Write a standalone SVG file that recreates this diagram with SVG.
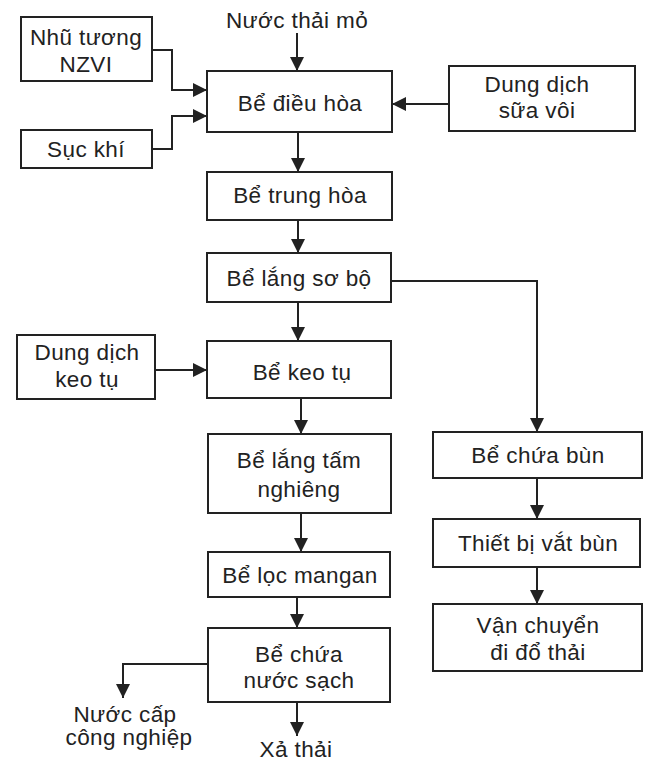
<svg xmlns="http://www.w3.org/2000/svg" width="649" height="763" viewBox="0 0 649 763">
<style>
.box{fill:#fff;stroke:#222;stroke-width:2}
.t{font-family:"Liberation Sans",Arial,sans-serif;font-size:22.5px;letter-spacing:0.4px;fill:#222;text-anchor:middle}
.c{fill:none;stroke:#222;stroke-width:2}
</style>
<defs>
<marker id="ah" markerUnits="userSpaceOnUse" markerWidth="15" markerHeight="15" refX="14" refY="7" orient="auto">
<path d="M0,0 L14,7 L0,14 z" fill="#222"/>
</marker>
</defs>
<rect width="649" height="763" fill="#fff"/>
<g id="connectors">
<path class="c" d="M297,33 V71" marker-end="url(#ah)"/>
<path class="c" d="M152,50 H172 V90 H207" marker-end="url(#ah)"/>
<path class="c" d="M152,149 H172 V116 H207" marker-end="url(#ah)"/>
<path class="c" d="M449,104 H392" marker-end="url(#ah)"/>
<path class="c" d="M298,132 V172" marker-end="url(#ah)"/>
<path class="c" d="M298,220 V253" marker-end="url(#ah)"/>
<path class="c" d="M391,281 H537 V432" marker-end="url(#ah)"/>
<path class="c" d="M298,302 V341" marker-end="url(#ah)"/>
<path class="c" d="M155,370 H207" marker-end="url(#ah)"/>
<path class="c" d="M301,398 V434" marker-end="url(#ah)"/>
<path class="c" d="M301,513 V552" marker-end="url(#ah)"/>
<path class="c" d="M297,597 V628" marker-end="url(#ah)"/>
<path class="c" d="M208,664 H123 V698" marker-end="url(#ah)"/>
<path class="c" d="M297,702 V736" marker-end="url(#ah)"/>
<path class="c" d="M537,478 V519" marker-end="url(#ah)"/>
<path class="c" d="M537,567 V604" marker-end="url(#ah)"/>
</g>
<g id="n-nuocthai"><text class="t" x="297" y="28">Nước thải mỏ</text></g>
<g id="n-nzvi"><rect class="box" x="21" y="17" width="131" height="64"/><text class="t" x="86" y="45">Nhũ tương</text><text class="t" x="86" y="72">NZVI</text></g>
<g id="n-suckhi"><rect class="box" x="21" y="130" width="131" height="38"/><text class="t" x="86" y="157">Sục khí</text></g>
<g id="n-dieuhoa"><rect class="box" x="207" y="71" width="185" height="61"/><text class="t" x="300" y="111">Bể điều hòa</text></g>
<g id="n-suavoi"><rect class="box" x="449" y="66" width="186" height="65"/><text class="t" x="537" y="92">Dung dịch</text><text class="t" x="537" y="118">sữa vôi</text></g>
<g id="n-trunghoa"><rect class="box" x="207" y="172" width="185" height="48"/><text class="t" x="300" y="203">Bể trung hòa</text></g>
<g id="n-langsobo"><rect class="box" x="207" y="253" width="184" height="49"/><text class="t" x="299" y="286">Bể lắng sơ bộ</text></g>
<g id="n-ddkeotu"><rect class="box" x="17" y="335" width="138" height="64"/><text class="t" x="87" y="360">Dung dịch</text><text class="t" x="87" y="387">keo tụ</text></g>
<g id="n-keotu"><rect class="box" x="207" y="341" width="184" height="57"/><text class="t" x="302" y="380">Bể keo tụ</text></g>
<g id="n-langtam"><rect class="box" x="208" y="434" width="183" height="79"/><text class="t" x="299" y="468">Bể lắng tấm</text><text class="t" x="299" y="497">nghiêng</text></g>
<g id="n-locmangan"><rect class="box" x="208" y="552" width="182" height="45"/><text class="t" x="300" y="583">Bể lọc mangan</text></g>
<g id="n-nuocsach"><rect class="box" x="208" y="628" width="182" height="74"/><text class="t" x="299" y="662">Bể chứa</text><text class="t" x="299" y="688">nước sạch</text></g>
<g id="n-capcn"><text class="t" x="125" y="722">Nước cấp</text><text class="t" x="129" y="745">công nghiệp</text></g>
<g id="n-xathai"><text class="t" x="296" y="757">Xả thải</text></g>
<g id="n-chuabun"><rect class="box" x="433" y="432" width="209" height="46"/><text class="t" x="538" y="463">Bể chứa bùn</text></g>
<g id="n-vatbun"><rect class="box" x="433" y="519" width="207" height="48"/><text class="t" x="538" y="551">Thiết bị vắt bùn</text></g>
<g id="n-vanchuyen"><rect class="box" x="433" y="604" width="209" height="67"/><text class="t" x="538" y="633">Vận chuyển</text><text class="t" x="538" y="660">đi đổ thải</text></g>
</svg>
